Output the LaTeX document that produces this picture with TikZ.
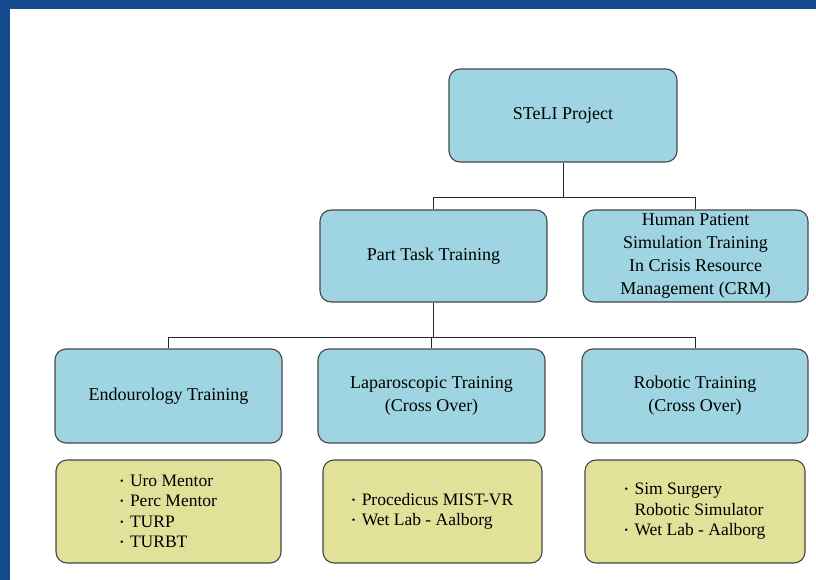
\documentclass[tikz,border=0pt]{standalone}
\usepackage{fontspec}
\setmainfont{Liberation Serif}
\definecolor{bgblue}{RGB}{22,74,142}
\definecolor{boxblue}{RGB}{159,213,226}
\definecolor{boxyellow}{RGB}{225,225,154}
\definecolor{edge}{RGB}{70,70,70}
\newcommand{\bul}{\makebox[10pt][l]{\raisebox{2pt}{\fontsize{10}{10}\selectfont\textbullet}}}
\newcommand{\nobul}{\hspace*{10pt}}
\begin{document}
\begin{tikzpicture}[x=1pt,y=-1pt,
  bluebox/.style={draw=edge,line width=1.1pt,fill=boxblue,rounded corners=11pt,inner sep=0pt,align=center,
    font=\fontsize{18}{23}\selectfont},
  yellowbox/.style={draw=edge,line width=1.1pt,fill=boxyellow,rounded corners=11pt,inner sep=0pt},
  listtext/.style={inner sep=0pt,align=left,font=\fontsize{17.5}{20.5}\selectfont},
  conn/.style={draw=black!85,line width=0.9pt}]
\useasboundingbox (0,0) rectangle (816,580);
\fill[bgblue] (0,0) rectangle (816,580);
\fill[white] (10,9) rectangle (816,580);

\node[bluebox,minimum width=228pt,minimum height=93pt] (steli) at (563,115.5) {STeLI Project};
\node[bluebox,minimum width=227pt,minimum height=92pt] (part) at (433.5,256) {Part Task Training};
\node[bluebox,minimum width=225pt,minimum height=92pt] (human) at (695.5,256) {Human Patient\\Simulation Training\\In Crisis Resource\\Management (CRM)};
\node[bluebox,minimum width=227pt,minimum height=94pt] (endo) at (168.5,396) {Endourology Training};
\node[bluebox,minimum width=227pt,minimum height=94pt] (lap) at (431.5,396) {Laparoscopic Training\\(Cross Over)};
\node[bluebox,minimum width=226pt,minimum height=94pt] (rob) at (695,396) {Robotic Training\\(Cross Over)};

\node[yellowbox,minimum width=225pt,minimum height=103pt] (yendo) at (168.5,511.5) {};
\node[yellowbox,minimum width=219pt,minimum height=103pt] (ylap) at (432.5,511.5) {};
\node[yellowbox,minimum width=220pt,minimum height=103pt] (yrob) at (695,511.5) {};

\node[listtext] (tendo) at (yendo.center) {\bul Uro Mentor\\\bul Perc Mentor\\\bul TURP\\\bul TURBT};
\node[listtext] (tlap) at (ylap.center) {\bul Procedicus MIST-VR\\\bul Wet Lab - Aalborg};
\node[listtext] (trob) at (yrob.center) {\bul Sim Surgery\\\nobul Robotic Simulator\\\bul Wet Lab - Aalborg};

\coordinate (bus1) at (0,197);
\coordinate (bus2) at (0,337);
\draw[conn] (steli.south) -- (steli.south |- bus1) -| (part.north);
\draw[conn] (steli.south |- bus1) -| (human.north);
\draw[conn] (part.south) -- (part.south |- bus2) -| (endo.north);
\draw[conn] (part.south |- bus2) -| (rob.north);
\draw[conn] (lap.north) -- (lap.north |- bus2);
\end{tikzpicture}
\end{document}
